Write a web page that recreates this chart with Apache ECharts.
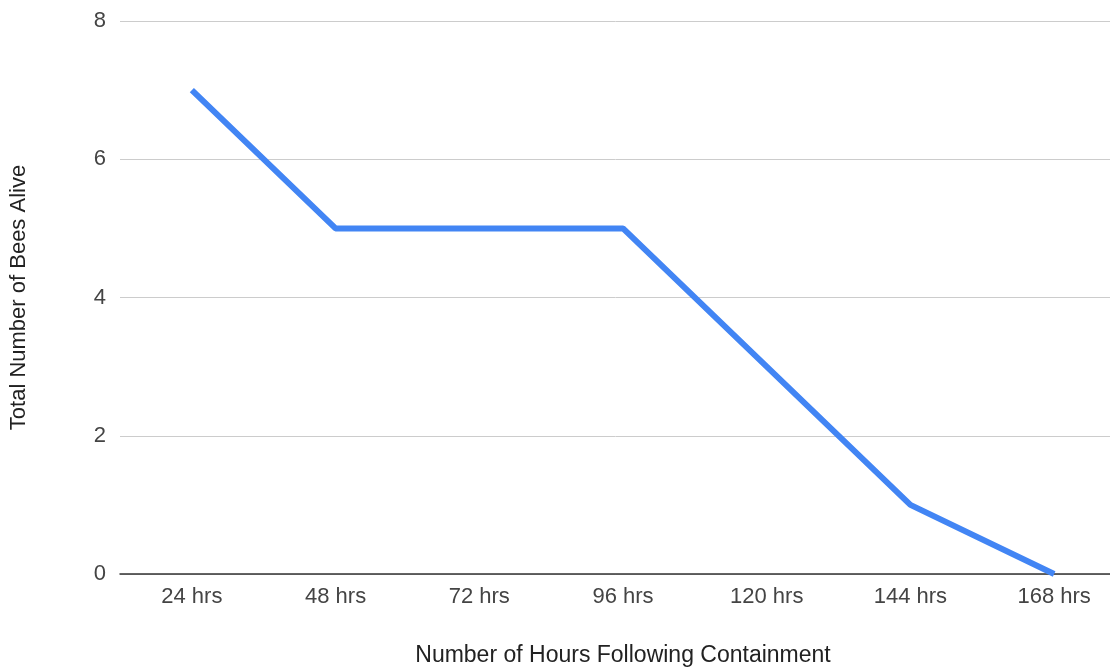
<!DOCTYPE html>
<html><head><meta charset="utf-8">
<script src="https://cdn.jsdelivr.net/npm/echarts@6/dist/echarts.min.js"></script>
<style>html,body{margin:0;padding:0;background:#fff}#c{width:1110px;height:670px}</style>
</head><body><div id="c"></div>
<script>
const categories = ['24 hrs','48 hrs','72 hrs','96 hrs','120 hrs','144 hrs','168 hrs'];
const beesAlive = [7,5,5,5,3,1,0];
const yTicks = [0,2,4,6,8];

const chart = echarts.init(document.getElementById('c'), null, {renderer:'canvas'});
chart.setOption({
  animation:false,
  grid:{left:120, top:21, width:1006, height:553, containLabel:false, outerBoundsMode:'none'},
  xAxis:{
    type:'category', data:categories, boundaryGap:true,
    name:'Number of Hours Following Containment', nameLocation:'middle', nameGap:70,
    nameTextStyle:{fontFamily:'Liberation Sans', fontSize:23, color:'#222'},
    axisLine:{lineStyle:{color:'#333', width:1.5}},
    axisTick:{show:false},
    axisLabel:{fontFamily:'Liberation Sans', fontSize:22, color:'#444', margin:12}
  },
  yAxis:{
    type:'value', min:0, max:8, interval:2,
    name:'Total Number of Bees Alive', nameLocation:'middle', nameGap:90,
    nameTextStyle:{fontFamily:'Liberation Sans', fontSize:22, color:'#222'},
    axisLine:{show:false}, axisTick:{show:false},
    axisLabel:{fontFamily:'Liberation Sans', fontSize:22, color:'#444', margin:14,
      formatter:v=>yTicks.includes(v)?String(v):''},
    splitLine:{lineStyle:{color:'#ccc', width:1}}
  },
  series:[{type:'line', data:beesAlive, symbol:'none',
    lineStyle:{color:'#4285F4', width:6}, itemStyle:{color:'#4285F4'}}]
});
</script></body></html>
